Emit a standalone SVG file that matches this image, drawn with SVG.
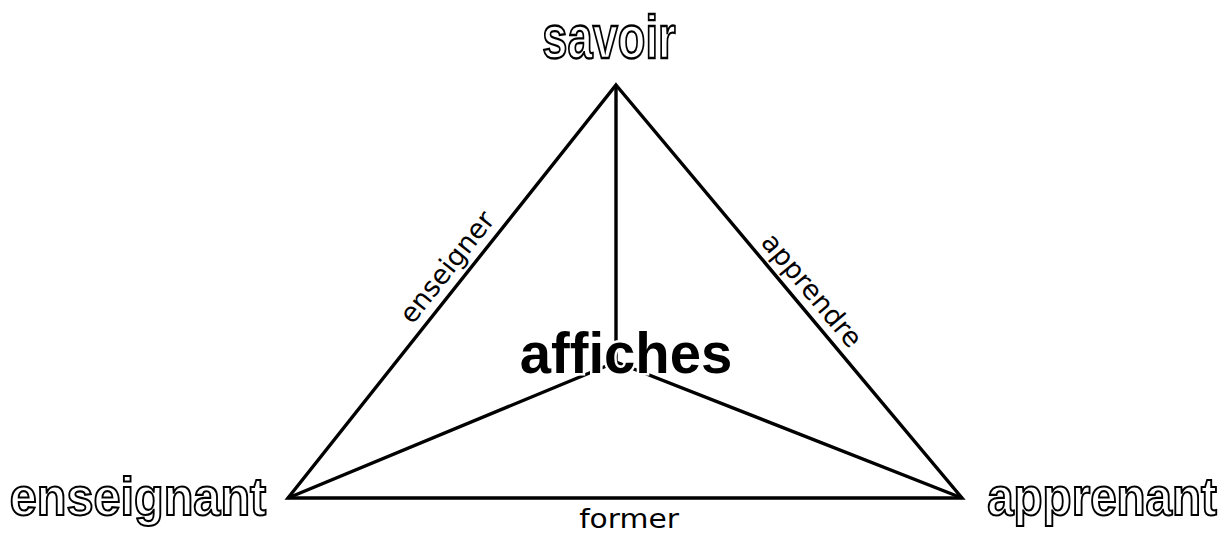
<svg xmlns="http://www.w3.org/2000/svg" width="1224" height="533" viewBox="0 0 1224 533">
<style>
.edge{fill:none;stroke:#000;stroke-width:3.4;stroke-linejoin:miter;stroke-miterlimit:10}
.outline{font-family:"Liberation Sans",Arial,sans-serif;font-weight:bold;fill:#fff;stroke:#000;stroke-width:2;text-anchor:middle;vector-effect:non-scaling-stroke}
.lbl{font-family:"DejaVu Sans","Liberation Sans",sans-serif;font-size:27px;fill:#000;text-anchor:middle}
.center{font-family:"Liberation Sans",Arial,sans-serif;font-weight:bold;font-size:58px;fill:#000;stroke:#fff;stroke-width:5;paint-order:stroke;text-anchor:middle}
</style>
<rect width="1224" height="533" fill="#fff"/>
<g id="connectors">
<path class="edge" d="M616 85 L962 498 L288 498 Z"/>
<path class="edge" d="M616 85 L616 362"/>
<path class="edge" d="M288 498 L616 362 L962 498"/>
</g>
<g id="edge-labels">
<text class="lbl" transform="translate(462,279) rotate(-51.5)" x="0" y="-10">enseigner</text>
<text class="lbl" transform="translate(798,302) rotate(50)" x="0" y="-9">apprendre</text>
<text class="lbl" transform="translate(629,528) scale(1.1,1)" x="0" y="0">former</text>
</g>
<g id="node-savoir"><text class="outline" transform="translate(609,58) scale(0.73,1)" x="0" y="0" font-size="62">savoir</text></g>
<g id="node-enseignant"><text class="outline" transform="translate(138,515) scale(0.9,1)" x="0" y="0" font-size="54">enseignant</text></g>
<g id="node-apprenant"><text class="outline" transform="translate(1102,515) scale(0.88,1)" x="0" y="0" font-size="54">apprenant</text></g>
<g id="node-affiches"><text class="center" transform="translate(626,373) scale(0.97,1)" x="0" y="0">affiches</text></g>
</svg>
